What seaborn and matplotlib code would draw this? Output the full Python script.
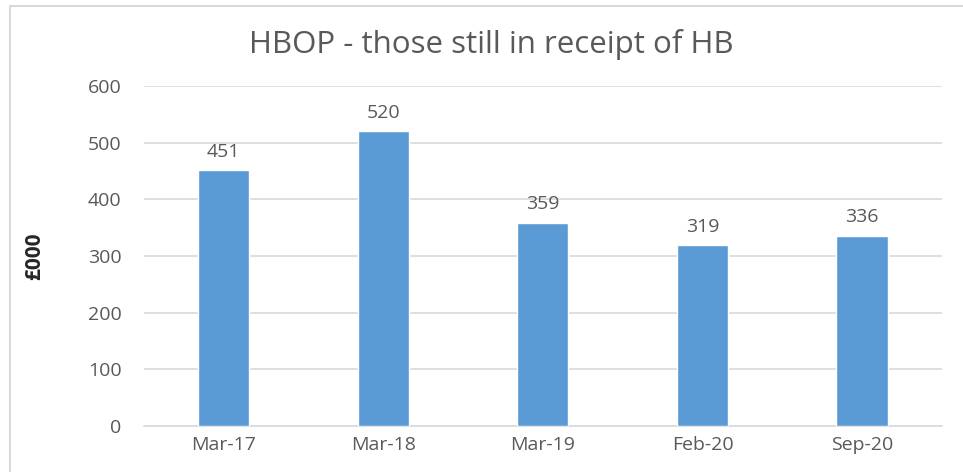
import matplotlib
matplotlib.use('Agg')
import matplotlib.pyplot as plt
from matplotlib.patches import Rectangle
import pandas as pd
import seaborn as sns

# chart data
periods = ['Mar-17', 'Mar-18', 'Mar-19', 'Feb-20', 'Sep-20']
amounts = [451, 520, 359, 319, 336]
y_ticks = [0, 100, 200, 300, 400, 500, 600]

df = pd.DataFrame({'period': periods, 'amount': amounts})

sns.set_theme(style='white')
plt.rcParams['font.family'] = ['Open Sans', 'DejaVu Sans']

grey = '#595959'
fig = plt.figure(figsize=(9.63, 4.72), dpi=100)
ax = fig.add_axes([0.1495, 0.0975, 0.8285, 0.7203])

sns.barplot(data=df, x='period', y='amount', color='#5B9BD5', width=0.32,
            saturation=1, ax=ax, zorder=3)

# value labels on top of bars
for i, v in enumerate(amounts):
    ax.text(i, v + 17, str(v), ha='center', va='bottom', fontsize=14, color=grey)

ax.set_ylim(0, 600)
ax.set_yticks(y_ticks)
ax.set_xlim(-0.5, len(periods) - 0.5)
ax.yaxis.grid(True, color='#D9D9D9', linewidth=1.2, zorder=0)
ax.tick_params(axis='y', length=0, labelsize=14, labelcolor=grey, pad=16)
ax.tick_params(axis='x', length=0, labelsize=14, labelcolor=grey, pad=7)

# category boundary tick marks below the x axis
ax.set_xticks([i - 0.5 for i in range(len(periods) + 1)], minor=True)
ax.tick_params(axis='x', which='minor', length=5, color='#D9D9D9', width=1.2)

for side in ['top', 'right', 'left']:
    ax.spines[side].set_visible(False)
ax.spines['bottom'].set_color('#D9D9D9')
ax.spines['bottom'].set_linewidth(1.2)

ax.set_xlabel('')
ax.set_ylabel('£000', fontsize=15, fontweight='bold', color='#262626', labelpad=31)
fig.text(0.51, 0.905, 'HBOP - those still in receipt of HB', ha='center',
         va='center', fontsize=22.5, color=grey)

# outer chart border (partially cropped in the reference)
fig.patches.append(Rectangle((10 / 963, -0.1), 1.0, 1.1 - 6 / 472,
                             transform=fig.transFigure, fill=False,
                             edgecolor='#D9D9D9', linewidth=1.5))

fig.savefig('out.png', dpi=100)
